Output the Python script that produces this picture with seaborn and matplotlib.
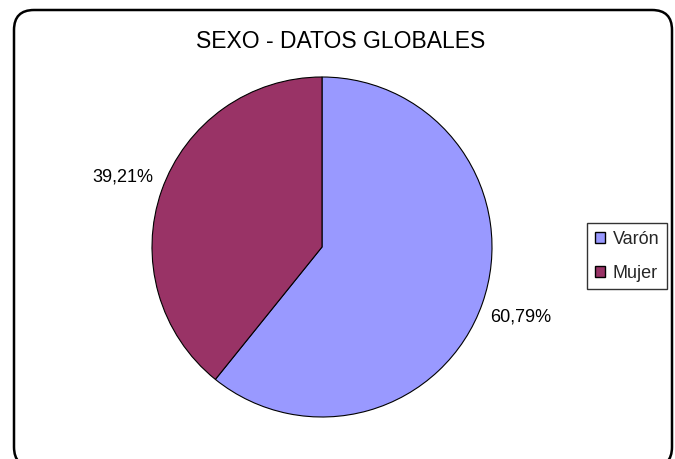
import matplotlib
matplotlib.use("Agg")
import matplotlib.pyplot as plt
import seaborn as sns
from matplotlib.patches import FancyBboxPatch, Patch

# data
labels = ["Varón", "Mujer"]
values = [60.79, 39.21]
colors = ["#9999FF", "#993366"]
title = "SEXO - DATOS GLOBALES"

sns.set_theme(style="white")
plt.rcParams['font.family'] = ['Liberation Sans', 'DejaVu Sans']

W, H = 675, 459
fig = plt.figure(figsize=(W / 100, H / 100), dpi=100)

# background axes in pixel units for the rounded frame
bg = fig.add_axes([0, 0, 1, 1])
bg.set_xlim(0, W)
bg.set_ylim(0, H)
bg.axis("off")
frame = FancyBboxPatch((14, -8), 658, 457, boxstyle="round,pad=0,rounding_size=20",
                       facecolor="white", edgecolor="black", linewidth=1.8)
bg.add_patch(frame)
bg.text(341, H - 41, title, ha="center", va="center", fontsize=16.5, color="black")

# pie axes
cx, cy, r = 322, H - 247, 170
ax = fig.add_axes([(cx - r) / W, (cy - r) / H, 2 * r / W, 2 * r / H])
wedges, texts, autotexts = ax.pie(
    values, colors=colors, startangle=90, counterclock=False,
    autopct=lambda p: f"{p:.2f}%".replace(".", ","), pctdistance=1.24,
    wedgeprops=dict(edgecolor="black", linewidth=0.8),
    textprops=dict(fontsize=13, color="black"), radius=1.0)
ax.set_xlim(-1, 1)
ax.set_ylim(-1, 1)
ax.set_aspect("equal")

handles = [Patch(facecolor=c, edgecolor="black", linewidth=1.0) for c in colors]
leg = fig.legend(handles, labels, loc="upper left", bbox_to_anchor=(587 / W, 1 - 223 / H),
                 frameon=True, fancybox=False, fontsize=13, handlelength=0.55,
                 handleheight=0.55, handletextpad=0.45, borderpad=0.42, labelspacing=0.95,
                 borderaxespad=0)
leg.get_frame().set_edgecolor("black")
leg.get_frame().set_linewidth(1.0)

fig.savefig("out.png", dpi=100)
